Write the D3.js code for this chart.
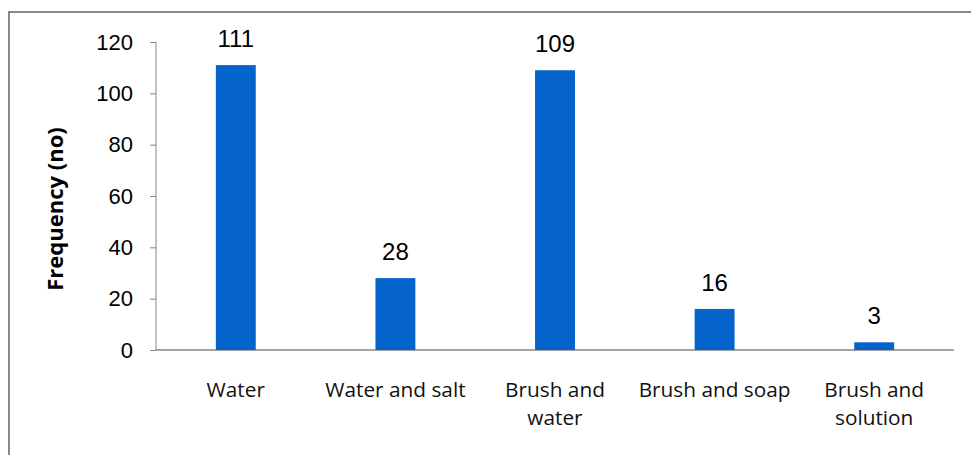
<!DOCTYPE html>
<html>
<head>
<meta charset="utf-8">
<script src="https://cdn.jsdelivr.net/npm/d3@7"></script>
<style>
  body { margin: 0; background: #fff; }
</style>
</head>
<body>
<div id="chart"></div>
<script>
// chart data
const categories = [["Water"], ["Water and salt"], ["Brush and", "water"], ["Brush and soap"], ["Brush and", "solution"]];
const values = [111, 28, 109, 16, 3];
const yTicks = [0, 20, 40, 60, 80, 100, 120];

const width = 971, height = 455;
const margin = {left: 156, right: 17, top: 42, bottom: 105};

const svg = d3.select("#chart").append("svg")
    .attr("width", width)
    .attr("height", height);

// outer frame
svg.append("rect")
    .attr("x", 9).attr("y", 12)
    .attr("width", width + 20).attr("height", height + 20)
    .attr("fill", "none")
    .attr("stroke", "#888")
    .attr("stroke-width", 2);

const x = d3.scaleBand()
    .domain(d3.range(values.length))
    .range([margin.left, width - margin.right])
    .paddingInner(0.75)
    .paddingOuter(0.375);

const y = d3.scaleLinear()
    .domain([0, 120])
    .range([height - margin.bottom, margin.top]);

// y axis
const yAxis = svg.append("g")
    .attr("transform", `translate(${margin.left},0)`)
    .call(d3.axisLeft(y).tickValues(yTicks).tickSize(6).tickPadding(17));
yAxis.selectAll("line, path").attr("stroke", "#868686");
yAxis.select(".domain").attr("d", `M0,${y(120)}V${y(0)}`);
yAxis.selectAll("text")
    .style("font-family", "Liberation Sans, Arial, sans-serif")
    .style("font-size", "22px")
    .attr("fill", "#000");

// x axis line
svg.append("line")
    .attr("x1", margin.left).attr("x2", width - margin.right)
    .attr("y1", y(0)).attr("y2", y(0))
    .attr("stroke", "#868686")
    .attr("stroke-width", 1.5);

// bars
svg.selectAll("rect.bar")
    .data(values)
    .enter()
    .append("rect")
    .attr("class", "bar")
    .attr("x", (d, i) => x(i))
    .attr("y", d => y(d))
    .attr("width", x.bandwidth())
    .attr("height", d => y(0) - y(d))
    .attr("fill", "#0563CC");

// value labels
svg.selectAll("text.val")
    .data(values)
    .enter()
    .append("text")
    .attr("class", "val")
    .attr("x", (d, i) => x(i) + x.bandwidth() / 2)
    .attr("y", d => y(d) - 18)
    .attr("text-anchor", "middle")
    .style("font-family", "Liberation Sans, Arial, sans-serif")
    .style("font-size", "24px")
    .text(d => d);

// category labels
const cat = svg.selectAll("text.cat")
    .data(categories)
    .enter()
    .append("text")
    .attr("class", "cat")
    .attr("text-anchor", "middle")
    .style("font-family", "Open Sans, sans-serif")
    .style("font-size", "20.8px")
    .attr("fill", "#111");
cat.each(function(lines, i) {
    d3.select(this).selectAll("tspan")
        .data(lines)
        .enter()
        .append("tspan")
        .attr("x", x(i) + x.bandwidth() / 2)
        .attr("y", (l, j) => 397 + j * 28)
        .text(l => l);
});

// y axis title
svg.append("text")
    .attr("transform", "translate(63,209) rotate(-90)")
    .attr("text-anchor", "middle")
    .style("font-family", "Open Sans, sans-serif")
    .style("font-weight", "bold")
    .style("font-size", "22px")
    .text("Frequency (no)");
</script>
</body>
</html>
